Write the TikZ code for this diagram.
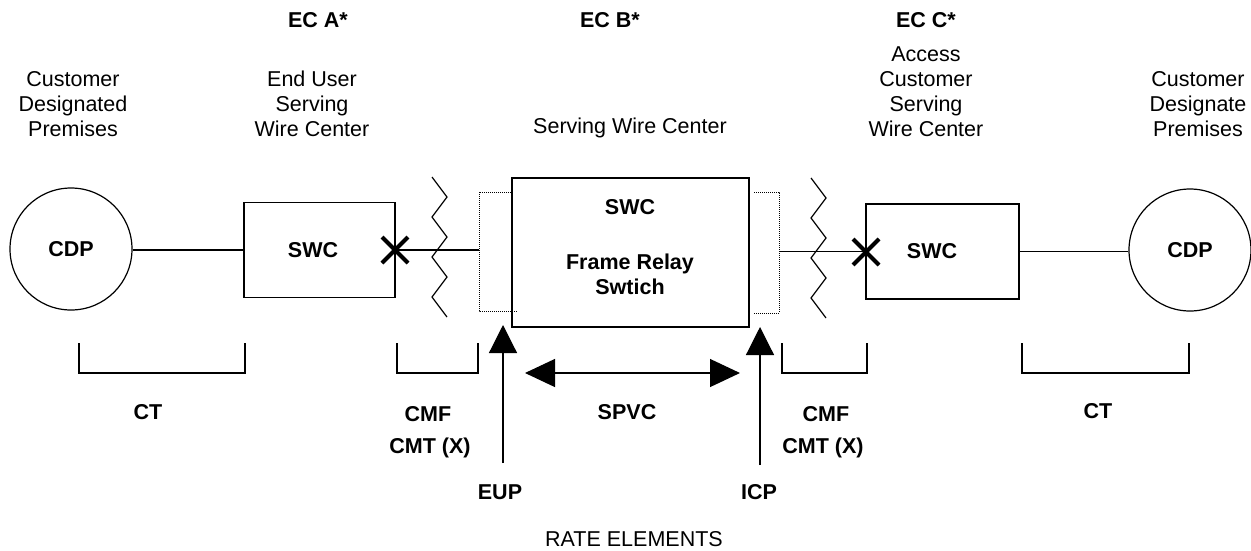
\documentclass[tikz,border=0pt]{standalone}
\usepackage{fontspec}
\setmainfont{Liberation Sans}
\usetikzlibrary{arrows.meta}
\begin{document}
\begin{tikzpicture}[x=1pt,y=-1pt,
  txt/.style={font=\fontsize{21.5}{25}\selectfont, align=center, inner sep=0pt},
  btxt/.style={font=\fontsize{21.5}{25}\selectfont\bfseries, align=center, inner sep=0pt},
  conn/.style={line width=1.1pt},
  boxnode/.style={draw, line width=1.2pt, inner sep=0pt},
  circnode/.style={draw, circle, line width=1.2pt, inner sep=0pt, minimum size=122pt},
  xmark/.style={line width=4pt},
  zig/.style={line width=1.2pt},
  dotbr/.style={line width=1pt, densely dotted},
  brk/.style={line width=1.2pt},
  bigtip/.style={-{Triangle[length=28pt,width=28pt]}, line width=1.2pt},
  dbltip/.style={{Triangle[length=30pt,width=28pt]}-{Triangle[length=30pt,width=28pt]}, line width=1.2pt}
]
\useasboundingbox (0,0) rectangle (1251,550);

% headings
\node[btxt] (eca) at (318,20) {EC A*};
\node[btxt] (ecb) at (610,20) {EC B*};
\node[btxt] (ecc) at (926,20) {EC C*};
\node[txt] (cdpl-t) at (73,104) {Customer\\Designated\\Premises};
\node[txt] (euswc-t) at (312,104) {End User\\Serving\\Wire Center};
\node[txt] (swc-t) at (630,128) {Serving Wire Center};
\node[txt] (acswc-t) at (926,92) {Access\\Customer\\Serving\\Wire Center};
\node[txt] (cdpr-t) at (1198,104) {Customer\\Designate\\Premises};

% main shapes
\node[circnode] (cdpl) at (71,249) {};
\node[btxt] at (cdpl) {CDP};
\node[boxnode, minimum width=151pt, minimum height=95pt] (swcl) at (319.5,250) {};
\node[btxt] at (313,250) {SWC};
\node[boxnode, minimum width=237pt, minimum height=149pt] (frs) at (630.5,252.5) {};
\node[btxt] (frs-swc) at (630,207) {SWC};
\node[btxt] (frs-fr) at (630,274) {Frame Relay\\Swtich};
\node[boxnode, minimum width=153pt, minimum height=95pt] (swcr) at (942.5,251.5) {};
\node[btxt] at (932,251) {SWC};
\node[circnode] (cdpr) at (1190,250) {};
\node[btxt] at (cdpr) {CDP};

% dotted brackets around the switch
\coordinate (lbr) at (479,250);
\coordinate (rbr) at (779,251.5);
\draw[dotbr] (511,192) -- (479,192) -- (479,311) -- (517,311);
\draw[dotbr] (754,192) -- (779,192) -- (779,313) -- (753,313);

% connectors
\draw[conn] (cdpl.east |- swcl.west) -- (swcl.west);
\draw[conn] (swcl.east) -- (lbr);
\draw[conn] (rbr) -- (swcr.west);
\draw[conn] (swcr.east) -- (swcr.east -| cdpr.west);

% X marks
\draw[xmark] (382,237) -- (408,263) (382,263) -- (408,237);
\draw[xmark] (853,239) -- (879,265) (853,265) -- (879,239);

% zigzags
\draw[zig] (432,177) -- (447,197) -- (432,217) -- (447,237) -- (432,257) -- (447,277) -- (432,297) -- (447,317);
\draw[zig] (811,178) -- (826,198) -- (811,218) -- (826,238) -- (811,258) -- (826,278) -- (811,298) -- (826,318);

% lower brackets
\draw[brk] (79,343) -- (79,373) -- (245,373) -- (245,343);
\draw[brk] (397,343) -- (397,373) -- (478,373) -- (478,343);
\draw[brk] (782,343) -- (782,373) -- (867,373) -- (867,343);
\draw[brk] (1022,343) -- (1022,373) -- (1189,373) -- (1189,343);

% labels
\node[btxt] (ctl) at (148,412) {CT};
\node[btxt] (cmfl) at (428,414) {CMF};
\node[btxt] (cmtl) at (430,448) {CMT (X)};
\node[btxt] (spvc) at (627,412) {SPVC};
\node[btxt] (cmfr) at (826,414) {CMF};
\node[btxt] (cmtr) at (823,448) {CMT (X)};
\node[btxt] (ctr) at (1098,411) {CT};
\node[btxt] (eup) at (500,492) {EUP};
\node[btxt] (icp) at (759,492) {ICP};
\node[txt] (rate) at (634,539) {RATE ELEMENTS};

% arrows
\coordinate (eupb) at (503,463);
\coordinate (eupt) at (503,325);
\coordinate (icpb) at (760,465);
\coordinate (icpt) at (760,327);
\draw[bigtip] (eupb) -- (eupt);
\draw[bigtip] (icpb) -- (icpt);
\coordinate (spl) at (525,373);
\coordinate (spr) at (740,373);
\draw[dbltip] (spl) -- (spr);
\end{tikzpicture}
\end{document}
